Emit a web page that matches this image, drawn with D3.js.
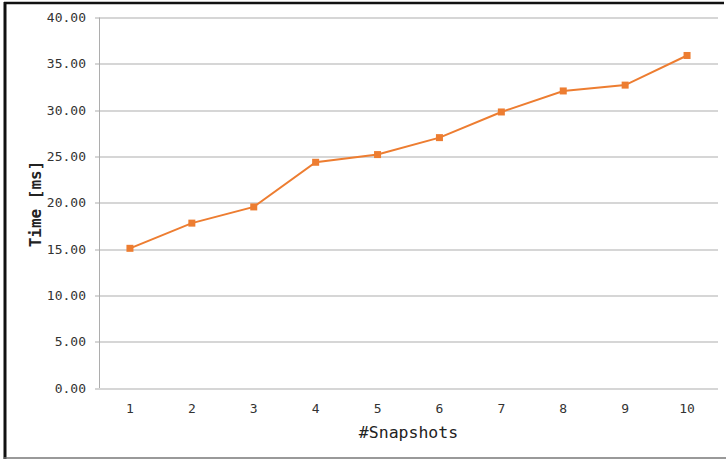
<!DOCTYPE html>
<html>
<head>
<meta charset="utf-8">
<script src="https://cdn.jsdelivr.net/npm/d3@7"></script>
<style>
  body { margin: 0; background: #fff; overflow: hidden; }
  svg { display: block; }
</style>
</head>
<body>
<div id="chart"></div>
<script>
// datos
const snapshots = ["1", "2", "3", "4", "5", "6", "7", "8", "9", "10"];
const timeMs = [15.08, 17.8, 19.55, 24.37, 25.2, 27.03, 29.8, 32.07, 32.7, 35.9];
const yTicks = [0, 5, 10, 15, 20, 25, 30, 35, 40];

const width = 726;
const height = 459;
const margin = { top: 17.5, right: 8, bottom: 71, left: 99 };
const innerWidth = width - margin.left - margin.right;
const innerHeight = height - margin.top - margin.bottom;
const mono = "'DejaVu Sans Mono', 'Liberation Mono', monospace";
const orange = "#ED7D31";

const svg = d3.select("#chart")
  .append("svg")
  .attr("width", width)
  .attr("height", height);

// marco
svg.append("line").attr("x1", 4).attr("x2", 724).attr("y1", 3).attr("y2", 3)
  .attr("stroke", "#111").attr("stroke-width", 2.5);
svg.append("line").attr("x1", 5).attr("x2", 5).attr("y1", 2).attr("y2", 459)
  .attr("stroke", "#111").attr("stroke-width", 3);
svg.append("line").attr("x1", 4).attr("x2", 726).attr("y1", 458).attr("y2", 458)
  .attr("stroke", "#777").attr("stroke-width", 1.5);

const g = svg.append("g")
  .attr("transform", `translate(${margin.left},${margin.top})`);

const xScale = d3.scaleBand()
  .domain(snapshots)
  .range([0, innerWidth])
  .padding(0);

const yScale = d3.scaleLinear()
  .domain([0, 40])
  .range([innerHeight, 0]);

// lineas de la cuadricula
g.append("g")
  .selectAll("line")
  .data(yTicks)
  .join("line")
  .attr("x1", -4)
  .attr("x2", innerWidth)
  .attr("y1", (d) => Math.round(yScale(d)) + 0.5)
  .attr("y2", (d) => Math.round(yScale(d)) + 0.5)
  .attr("stroke", "#ADADAD")
  .attr("stroke-width", 1);

// eje y
const yAxis = d3.axisLeft(yScale)
  .tickValues(yTicks)
  .tickFormat(d3.format(".2f"))
  .tickSize(0)
  .tickPadding(13);

g.append("g")
  .call(yAxis)
  .call((s) => s.select(".domain").remove())
  .selectAll("text")
  .attr("fill", "#333")
  .style("font-family", mono)
  .style("font-size", "13px");

g.append("line")
  .attr("x1", 0.5).attr("x2", 0.5)
  .attr("y1", 0).attr("y2", innerHeight)
  .attr("stroke", "#ADADAD");

// eje x
const xAxis = d3.axisBottom(xScale).tickSize(0).tickPadding(16);

g.append("g")
  .attr("transform", `translate(0,${innerHeight})`)
  .call(xAxis)
  .call((s) => s.select(".domain").remove())
  .selectAll("text")
  .attr("fill", "#333")
  .style("font-family", mono)
  .style("font-size", "13px");

// linea de datos
const line = d3.line()
  .x((d, i) => xScale(snapshots[i]) + xScale.bandwidth() / 2)
  .y((d) => yScale(d));

g.append("path")
  .datum(timeMs)
  .attr("fill", "none")
  .attr("stroke", orange)
  .attr("stroke-width", 2)
  .attr("d", line);

g.selectAll("rect.marker")
  .data(timeMs)
  .join("rect")
  .attr("class", "marker")
  .attr("x", (d, i) => xScale(snapshots[i]) + xScale.bandwidth() / 2 - 3.5)
  .attr("y", (d) => yScale(d) - 3.5)
  .attr("width", 7)
  .attr("height", 7)
  .attr("fill", orange);

// titulos de los ejes
svg.append("text")
  .attr("x", margin.left + innerWidth / 2)
  .attr("y", 438)
  .attr("text-anchor", "middle")
  .attr("fill", "#222")
  .style("font-family", mono)
  .style("font-size", "16.5px")
  .text("#Snapshots");

svg.append("text")
  .attr("transform", "rotate(-90)")
  .attr("x", -204)
  .attr("y", 41)
  .attr("text-anchor", "middle")
  .attr("fill", "#222")
  .style("font-family", mono)
  .style("font-size", "16px")
  .style("font-weight", "bold")
  .text("Time [ms]");
</script>
</body>
</html>
